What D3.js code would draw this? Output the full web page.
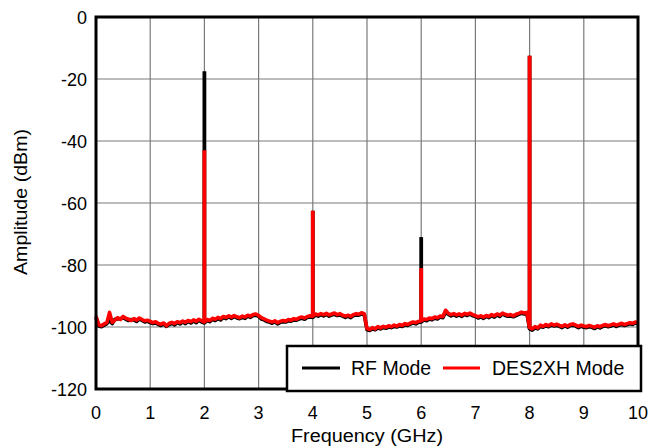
<!DOCTYPE html>
<html><head><meta charset="utf-8">
<script src="https://cdn.jsdelivr.net/npm/d3@7"></script>
<style>body{margin:0;background:#fff}svg{display:block}text{font-family:"Liberation Sans",Arial,sans-serif}</style>
</head><body>
<svg id="c" width="652" height="447"></svg>
<script>
// Frequency grid for the noise floor traces (GHz), 0.05 GHz step
const freqStep = 0.05;
// DES2XH Mode noise floor (dBm), one value per 0.05 GHz from 0 to 10 GHz
const desFloor = [
-96.5,-99.3,-99.6,-99.0,-98.6,-95.3,-98.5,-97.8,-97.0,-97.6,
-96.6,-97.2,-97.5,-97.9,-97.3,-97.8,-97.1,-97.6,-98.0,-97.8,
-98.2,-98.6,-98.3,-98.9,-99.1,-98.7,-99.6,-98.8,-98.5,-98.9,
-98.3,-98.6,-98.1,-98.5,-97.9,-98.3,-97.7,-98.2,-97.5,-98.0,
-98.4,-97.6,-97.9,-97.2,-97.5,-96.9,-97.3,-96.6,-96.9,-96.4,
-96.8,-96.3,-96.7,-97.0,-96.5,-96.8,-96.2,-96.5,-96.0,-95.8,
-96.3,-97.0,-97.4,-97.8,-98.1,-98.4,-98.0,-98.6,-98.2,-97.9,
-98.1,-97.6,-97.8,-97.3,-97.5,-97.0,-96.8,-97.1,-96.6,-96.4,
-96.5,-95.8,-96.1,-95.7,-96.0,-95.6,-96.1,-95.8,-95.5,-96.0,
-95.7,-96.2,-96.5,-96.2,-96.6,-96.0,-95.7,-95.9,-95.4,-95.8,
-100.5,-100.8,-100.2,-100.6,-99.9,-100.3,-99.8,-100.1,-99.6,-99.9,
-99.4,-99.7,-99.2,-99.5,-98.9,-99.2,-98.7,-98.4,-98.6,-98.2,
-98.0,-97.4,-97.6,-97.1,-97.3,-96.8,-97.0,-96.5,-96.6,-94.6,
-95.6,-96.0,-95.7,-96.1,-95.8,-96.2,-95.6,-95.9,-95.5,-96.0,
-96.3,-96.7,-96.4,-96.8,-96.3,-96.6,-96.0,-96.4,-95.8,-96.2,
-95.5,-95.9,-96.2,-96.0,-96.4,-95.9,-95.6,-95.2,-95.5,-95.3,
-100.2,-100.6,-99.9,-100.3,-99.4,-99.8,-99.2,-99.6,-99.0,-99.4,
-99.1,-99.5,-99.8,-99.3,-99.7,-99.2,-99.0,-99.4,-99.8,-99.4,
-99.7,-99.9,-99.5,-99.8,-100.1,-99.6,-99.9,-99.5,-99.2,-99.6,
-99.3,-99.0,-99.4,-99.1,-98.8,-99.2,-98.9,-98.6,-98.8,-98.4,
-98.6];
// RF Mode noise floor (dBm), same frequency grid
const rfFloor = [
-96.9,-99.7,-99.9,-99.4,-98.9,-97.9,-98.9,-97.5,-97.4,-97.3,
-97.0,-97.5,-97.9,-97.6,-97.7,-98.2,-97.4,-97.9,-98.4,-98.1,
-98.6,-98.9,-98.7,-99.2,-99.5,-99.0,-99.8,-99.2,-98.8,-99.3,
-98.6,-99.0,-98.4,-98.9,-98.2,-98.7,-98.0,-98.6,-97.8,-98.4,
-98.7,-97.9,-98.3,-97.5,-97.9,-97.2,-97.7,-96.9,-97.3,-96.7,
-97.2,-96.6,-97.1,-97.3,-96.9,-97.2,-96.5,-96.9,-96.3,-96.2,
-96.6,-97.4,-97.7,-98.2,-98.4,-98.8,-98.3,-99.0,-98.5,-98.3,
-98.4,-98.0,-98.1,-97.7,-97.8,-97.4,-97.1,-97.5,-96.9,-96.8,
-96.9,-96.1,-96.5,-96.0,-96.4,-95.9,-96.5,-96.1,-95.9,-96.3,
-96.1,-96.5,-96.9,-96.5,-97.0,-96.3,-96.1,-96.2,-95.8,-96.1,
-100.9,-101.1,-100.6,-100.9,-100.3,-100.6,-100.2,-100.4,-100.0,-100.2,
-99.8,-100.0,-99.6,-99.8,-99.3,-99.5,-99.1,-98.7,-99.0,-98.5,
-98.4,-97.7,-98.0,-97.4,-97.7,-97.1,-97.4,-96.8,-97.0,-95.3,
-95.9,-96.4,-96.0,-96.5,-96.1,-96.6,-95.9,-96.3,-95.8,-96.4,
-96.6,-97.1,-96.7,-97.2,-96.6,-97.0,-96.3,-96.8,-96.1,-96.6,
-95.8,-96.3,-96.5,-96.4,-96.7,-96.3,-95.9,-95.6,-95.8,-95.7,
-100.6,-101.0,-100.3,-100.6,-99.8,-100.1,-99.6,-99.9,-99.4,-99.7,
-99.5,-99.8,-100.2,-99.6,-100.1,-99.5,-99.4,-99.7,-100.2,-99.7,
-100.1,-100.2,-99.9,-100.1,-100.5,-99.9,-100.3,-99.8,-99.6,-99.9,
-99.7,-99.3,-99.8,-99.4,-99.2,-99.5,-99.3,-98.9,-99.2,-98.7,
-99.0];
// Spur / tone peaks
const peakFreqs = [2, 4, 6, 8];
const rfPeaks = [-17.5, -62.5, -71.0, -12.5];
const desPeaks = [-43.0, -62.5, -81.0, -12.5];
// Axis ticks
const xTicks = [0,1,2,3,4,5,6,7,8,9,10];
const yTicks = [0,-20,-40,-60,-80,-100,-120];
const seriesNames = ["RF Mode", "DES2XH Mode"];
const seriesColors = ["#000000", "#ff0000"];

const svg = d3.select("#c");
const L = 96, R = 638, T = 17, B = 389;
const x = d3.scaleLinear().domain([0, 10]).range([L, R]);
const y = d3.scaleLinear().domain([-120, 0]).range([B, T]);

// grid
const g = svg.append("g");
g.selectAll(".vx").data(xTicks.slice(1, -1)).enter().append("line")
  .attr("x1", d => x(d)).attr("x2", d => x(d)).attr("y1", T).attr("y2", B)
  .attr("stroke", "#7a7a7a").attr("stroke-width", 1.2);
g.selectAll(".hy").data(yTicks.slice(1, -1)).enter().append("line")
  .attr("y1", d => y(d)).attr("y2", d => y(d)).attr("x1", L).attr("x2", R)
  .attr("stroke", "#7a7a7a").attr("stroke-width", 1.2);

// traces
const line = d3.line().x((d, i) => x(i * freqStep)).y(d => y(d));
function drawSeries(floor, peaks, color, w) {
  svg.append("path").datum(floor).attr("d", line)
    .attr("fill", "none").attr("stroke", color).attr("stroke-width", w)
    .attr("stroke-linejoin", "round");
  svg.selectAll(null).data(peakFreqs).enter().append("line")
    .attr("x1", d => x(d)).attr("x2", d => x(d))
    .attr("y1", (d) => y(floor[Math.round(d / freqStep)]))
    .attr("y2", (d, i) => y(peaks[i]))
    .attr("stroke", color).attr("stroke-width", 3.8);
}
drawSeries(rfFloor, rfPeaks, seriesColors[0], 3.6);
drawSeries(desFloor, desPeaks, seriesColors[1], 3.6);

// frame
svg.append("rect").attr("x", L).attr("y", T).attr("width", R - L).attr("height", B - T)
  .attr("fill", "none").attr("stroke", "#000").attr("stroke-width", 3);

// tick labels
svg.selectAll(".xt").data(xTicks).enter().append("text")
  .attr("x", d => x(d)).attr("y", 419).attr("text-anchor", "middle")
  .attr("font-size", 18).text(d => d);
svg.selectAll(".yt").data(yTicks).enter().append("text")
  .attr("x", 87).attr("y", d => y(d) + 6.5).attr("text-anchor", "end")
  .attr("font-size", 18).text(d => d);

// axis titles
svg.append("text").attr("x", 367).attr("y", 442).attr("text-anchor", "middle")
  .attr("font-size", 18).attr("textLength", 152).attr("lengthAdjust", "spacingAndGlyphs")
  .text("Frequency (GHz)");
svg.append("text").attr("transform", "translate(27,202) rotate(-90)")
  .attr("text-anchor", "middle").attr("font-size", 18)
  .attr("textLength", 146).attr("lengthAdjust", "spacingAndGlyphs")
  .text("Amplitude (dBm)");

// legend
const lg = svg.append("g");
lg.append("rect").attr("x", 287).attr("y", 346).attr("width", 354).attr("height", 45)
  .attr("fill", "#fff").attr("stroke", "#000").attr("stroke-width", 2.5);
const legX = [[302, 340, 351], [443, 480, 492]];
seriesNames.forEach((n, i) => {
  lg.append("line").attr("x1", legX[i][0]).attr("x2", legX[i][1]).attr("y1", 368).attr("y2", 368)
    .attr("stroke", seriesColors[i]).attr("stroke-width", 3);
  lg.append("text").attr("x", legX[i][2]).attr("y", 375).attr("font-size", 19.5).text(n);
});
</script>
</body></html>
